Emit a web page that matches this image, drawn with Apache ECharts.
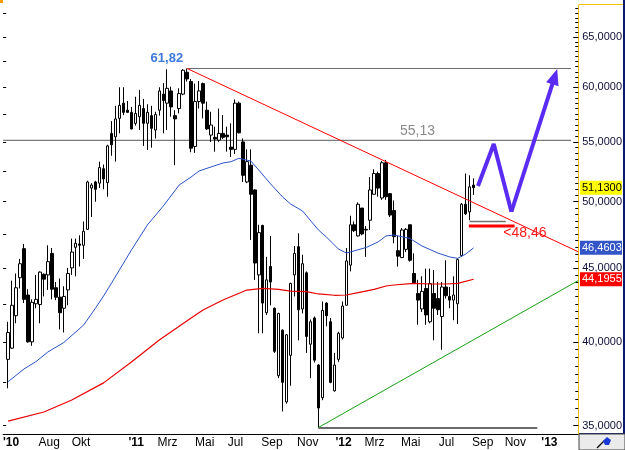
<!DOCTYPE html>
<html><head><meta charset="utf-8">
<script src="https://cdn.jsdelivr.net/npm/echarts@6/dist/echarts.min.js"></script>
<style>html,body{margin:0;padding:0;background:#fff}#c{width:625px;height:450px}</style>
</head><body><div id="c"></div>
<script>
// ---- weekly candles (index 0 = late May 2010) ----
const opens = [38.9,39.6,41.7,44.3,46.4,43.1,40.0,42.5,42.45,44.55,44.5,46.05,43.6,42.95,42.2,43.45,45.0,46.5,46.75,46.65,
47.85,51.1,51.6,51.5,52.7,51.55,55.75,55.45,57.1,58.5,57.85,57.65,56.65,57.25,58.0,56.65,57.35,56.05,57.85,59.35,
58.5,59.65,57.35,58.0,59.35,61.45,60.55,54.6,58.65,60.35,57.85,55.6,55.4,55.15,55.75,55.6,54.55,54.35,58.5,55.0,
51.6,53.0,50.95,44.5,48.15,41.9,45.1,42.2,37.9,40.75,36.35,39.15,44.5,46.55,42.15,44.65,39.85,41.55,38.55,36.6,
42.55,41.3,37.0,38.9,40.25,42.4,45.2,48.2,47.35,49.5,47.85,48.55,50.6,52.3,50.3,53.2,50.65,49.3,46.25,45.75,
46.35,48.2,44.6,43.2,42.15,43.55,41.3,43.2,42.85,41.65,43.65,43.0,42.75,42.5,45.9,49.8,49.2,51.35];
const closes = [40.6,42.4,43.6,45.3,42.8,40.0,42.6,42.8,44.7,44.2,45.45,43.5,42.95,41.9,43.0,44.6,46.15,46.8,46.65,47.7,
51.6,51.35,51.0,52.8,51.85,54.65,54.75,57.05,58.3,57.65,57.65,56.15,57.55,58.3,56.65,57.65,56.2,57.45,59.65,58.75,
59.9,58.15,57.05,59.4,61.65,60.8,54.45,58.65,59.65,58.5,56.15,56.5,55.25,55.75,55.4,55.45,54.35,58.5,55.8,52.15,
53.3,50.6,45.35,47.6,42.55,44.15,44.0,39.4,41.85,37.5,40.45,43.9,46.05,42.1,45.3,40.35,41.3,38.85,36.0,42.05,
41.7,37.5,38.55,40.55,42.35,45.5,48.2,47.75,49.8,47.5,47.8,50.95,52.3,51.1,53.2,50.4,48.95,47.3,45.85,47.8,
47.85,45.55,43.95,42.75,43.35,41.75,43.9,42.2,42.1,43.65,43.05,42.75,43.1,45.6,49.8,49.05,51.2,51.13];
const lows = [37.15,39.55,41.2,43.55,42.55,39.95,39.75,42.2,41.2,43.0,43.45,42.8,42.75,40.8,40.6,42.4,44.5,44.4,45.1,45.65,
47.8,48.8,50.0,51.1,51.0,50.4,53.8,53.3,55.75,57.4,57.6,56.1,56.45,56.05,54.65,54.3,54.5,55.3,57.35,55.75,
56.05,57.25,53.0,57.55,59.25,60.55,54.1,54.05,58.0,57.1,56.05,55.0,54.15,55.0,55.25,54.15,53.7,53.95,55.75,51.6,
51.5,47.05,44.15,40.55,40.55,41.75,42.4,39.3,37.75,35.8,36.25,37.3,43.0,40.1,41.85,39.3,37.75,38.7,34.9,36.45,
41.0,37.45,36.95,38.75,40.15,42.4,44.75,47.65,47.3,47.4,45.8,47.8,50.55,50.4,50.15,50.15,48.8,46.8,45.1,45.7,
46.15,45.45,43.9,41.1,41.95,41.1,41.2,40.1,41.75,39.5,42.85,42.2,41.4,41.15,45.8,48.95,48.55,50.55];
const highs = [41.3,44.1,44.6,45.65,46.75,43.5,42.8,44.5,44.75,44.6,46.65,46.45,44.0,44.25,43.7,45.0,47.15,47.15,47.4,48.45,
51.7,51.5,51.7,53.3,53.05,54.75,56.85,58.25,60.0,60.0,58.7,58.15,59.1,59.75,58.9,58.4,58.25,57.7,60.0,60.4,
61.75,60.05,57.85,59.9,61.75,61.82,60.8,60.35,60.6,60.45,58.65,57.7,56.35,58.0,57.4,56.35,56.65,58.85,58.65,55.3,
54.35,54.35,51.0,48.2,48.2,45.8,47.35,42.25,41.9,40.8,40.5,43.95,46.6,47.55,45.95,44.75,41.45,41.65,38.6,42.65,
42.6,41.55,39.3,40.65,42.65,46.45,48.9,48.45,49.95,49.5,48.1,52.0,52.65,52.45,53.35,53.45,50.7,50.1,47.35,47.95,
47.95,48.2,46.05,44.15,44.4,44.95,44.95,44.85,44.0,44.0,45.55,43.65,44.4,45.7,49.9,52.3,52.15,51.9];

// ---- moving averages, read at selected weeks: [week index, value] ----
const blueMA = [[0,37.54],[4,38.31],[7,38.76],[10,39.36],[14,39.96],[19,41.09],[22,42.22],[24,43.03],[26,43.93],
[31,46.30],[35,48.18],[39,49.66],[43,51.35],[46,52.01],[48,52.51],[51,52.85],[54,53.18],[56,53.29],[58,53.58],
[61,53.35],[63,52.59],[66,51.43],[69,50.38],[71,49.82],[74,49.27],[78,47.80],[80,47.27],[83,46.38],[85,46.08],
[86,46.15],[90,46.49],[93,46.90],[95,47.35],[97,47.42],[101,47.16],[104,46.60],[108,46.08],[111,45.79],[113,45.69],
[115,46.00],[117,46.4603]];
const redMA = [[0,35.26],[9,35.77],[16,36.46],[24,37.47],[31,38.74],[38,40.12],[46,41.55],[49,42.08],[54,42.76],
[60,43.44],[64,43.55],[68,43.49],[71,43.37],[75,43.33],[78,43.17],[82,43.08],[85,43.10],[88,43.26],[92,43.49],
[95,43.72],[97,43.79],[102,43.91],[106,43.86],[110,43.86],[113,43.91],[117,44.1955]];

// ---- drawn analysis ----
const redTrend = [[45,61.82],[143.3,46.17]];
const greenTrend = [[78,34.9],[143.3,44.1]];
const peakLine = [[45,61.82],[141.5,61.82]];
const line5513 = [[-1.25,55.13],[141.5,55.13]];
const lowLine = [[78,34.87],[133,34.87]];
const stopGrey = [[116,48.46],[125.1,48.46]];
const stopRed = [[115.8,48.1],[127.3,48.1]];
const projection = [[118.1,51.27],[122.07,54.81],[126.5,49.21]];
const projectionHead = [[126.5,49.21],[137.4,61.03]];
const notes = [{t:'61,82', x:39.9, v:62.81}, {t:'55,13', x:102.9, v:55.96}, {t:'<48,46', x:129.9, v:47.57}];
const lastMarks = [{v:51.13, bg:'#ffff00', fg:'#000'}, {v:46.4603, bg:'#3355c8', fg:'#fff'}, {v:44.1955, bg:'#ff0000', fg:'#fff'}];

// ---- axes ----
const xTickPos = [0.75,10.33,18.35,32.2,40.04,49.4,57.16,66.33,75.31,84.32,92.09,101.2,110.18,119.3,127.5,136.05];
const xTickText = ["'10","Aug","Okt","'11","Mrz","Mai","Jul","Sep","Nov","'12","Mrz","Mai","Jul","Sep","Nov","'13"];
const yLabelValues = [35,40,45,50,55,60,65];
const yTop = 68.40, yBottom = 34.54;
const xMin = -1.25, xMax = 143.3;

const L = Math.log;
const FONT = 'Liberation Sans, Arial, sans-serif';
const minorVals = []; for (let v = 34.5; v <= 68; v += 0.5) minorVals.push(L(v));
const leftVals = []; for (let v = 35; v <= 67.5; v += 2.5) leftVals.push(L(v));
const fmt = v => v.toFixed(4).replace('.', ',');

const lineS = (pts, color, width, z) => ({
  type:'line', data: pts.map(p => [p[0], L(p[1])]), showSymbol:false, symbol:'none',
  lineStyle:{color, width}, silent:true, z: z || 3, animation:false, clip:false
});

const chart = echarts.init(document.getElementById('c'));
const yBase = {type:'value', min:L(yBottom), max:L(yTop), splitLine:{show:false}};
chart.setOption({
  animation:false,
  backgroundColor:'#fff',
  grid:{left:0, right:46, top:5, bottom:16},
  xAxis:{type:'value', min:xMin, max:xMax, splitLine:{show:false}, axisTick:{show:false},
    axisLine:{show:true, onZero:false, lineStyle:{color:'#000', width:1}},
    axisLabel:{customValues:xTickPos, margin:3,
      formatter: v => { let k = 0, d = 1e9; xTickPos.forEach((p,i)=>{ if (Math.abs(p-v) < d) { d = Math.abs(p-v); k = i; } });
        const t = xTickText[k]; return t[0] === "'" ? '{y|' + t + '}' : '{m|' + t + '}'; },
      rich:{y:{fontWeight:'bold', fontSize:12, color:'#000', fontFamily:FONT}, m:{fontSize:12, color:'#000', fontFamily:FONT}}}},
  yAxis:[
    Object.assign({}, yBase, {position:'right', axisLine:{show:true, onZero:false, lineStyle:{color:'#f0c000', width:1}},
      axisTick:{show:true, inside:true, length:3, customValues:minorVals, lineStyle:{color:'#000'}}, axisLabel:{show:false}}),
    Object.assign({}, yBase, {position:'right', axisLine:{show:false, onZero:false},
      axisTick:{show:true, inside:true, length:5, customValues:yLabelValues.map(L), lineStyle:{color:'#000'}},
      axisLabel:{show:true, customValues:yLabelValues.map(L), formatter: v => fmt(Math.exp(v)), color:'#0e0e38', fontSize:11, fontFamily:FONT, margin:4}}),
    Object.assign({}, yBase, {position:'left', axisLine:{show:false, onZero:false},
      axisTick:{show:true, inside:true, length:3, customValues:leftVals, lineStyle:{color:'#000'}}, axisLabel:{show:false}})
  ],
  series:[
    lineS(line5513, '#7a7a7a', 1.2, 1),
    lineS(peakLine, '#6e6e6e', 1.2, 1),
    lineS(lowLine, '#6a6a6a', 2, 1),
    {type:'candlestick', z:2, silent:true, barWidth:3,
      data: opens.map((o,i) => [i, L(o), L(closes[i]), L(lows[i]), L(highs[i])]),
      encode:{x:0, y:[1,2,3,4]},
      itemStyle:{color:'#fff', color0:'#000', borderColor:'#000', borderColor0:'#000', borderWidth:1}},
    lineS(redMA, '#e80000', 1.2, 4),
    lineS(blueMA, '#2a52c8', 1, 4),
    lineS(redTrend, '#ff0000', 1, 4),
    lineS(greenTrend, '#16a016', 1, 4),
    lineS(stopGrey, '#707070', 1.5, 4),
    lineS(stopRed, '#ff0000', 3, 4),
    Object.assign(lineS(projection, '#5a2cf2', 4, 6), {
      markLine:{silent:true, animation:false, symbol:['none','triangle'], symbolSize:[13,16],
        lineStyle:{color:'#5a2cf2', width:4, type:'solid'}, label:{show:false},
        data:[[{coord:[projectionHead[0][0], L(projectionHead[0][1])]}, {coord:[projectionHead[1][0], L(projectionHead[1][1])]}]]}})
  ]
});

// annotations placed through the chart's own scales
const px = (x, v) => chart.convertToPixel({xAxisIndex:0, yAxisIndex:0}, [x, L(v)]);
const g = [];
const noteStyle = [
  {fill:'#3d78dc', font:'bold 13px ' + FONT},
  {fill:'#8a8a8a', font:'14px ' + FONT},
  {fill:'#ff1a1a', font:'14px ' + FONT}
];
notes.forEach((n, i) => {
  const p = px(n.x, n.v);
  g.push({type:'text', x:p[0], y:p[1], z:20, style:{text:n.t, fill:noteStyle[i].fill, font:noteStyle[i].font, textAlign:'center', textVerticalAlign:'middle'}});
});
// right axis frame
g.push({type:'line', shape:{x1:579, y1:4.5, x2:624, y2:4.5}, style:{stroke:'#f0c000', lineWidth:1}, z:15});
g.push({type:'rect', shape:{x:623, y:0, width:2, height:434}, style:{fill:'#0a1a6e'}, z:15});
g.push({type:'line', shape:{x1:579, y1:433.5, x2:625, y2:433.5}, style:{stroke:'#0a1a6e', lineWidth:1}, z:15});
lastMarks.forEach(m => {
  const y = px(0, m.v)[1];
  g.push({type:'rect', shape:{x:580, y:y-7, width:42, height:14}, style:{fill:m.bg}, z:16});
  g.push({type:'text', x:582, y:y, z:17, style:{text:fmt(m.v), fill:m.fg, font:'11px ' + FONT, textVerticalAlign:'middle'}});
});
// bottom-right button and corner mark
g.push({type:'rect', shape:{x:579, y:434, width:46, height:16}, style:{fill:'#ebebeb', stroke:'#444', lineWidth:1}, z:15});
g.push({type:'line', shape:{x1:597, y1:448, x2:605, y2:440}, style:{stroke:'#000', lineWidth:1.2}, z:16});
g.push({type:'polygon', shape:{points:[[603,441],[607,437],[611,440],[609,445],[605,445]]}, style:{fill:'#1a3ad8'}, z:16});
g.push({type:'rect', shape:{x:0, y:0, width:3, height:3}, style:{fill:'#ff9900'}, z:16});
chart.setOption({graphic:g});
</script>
</body></html>
